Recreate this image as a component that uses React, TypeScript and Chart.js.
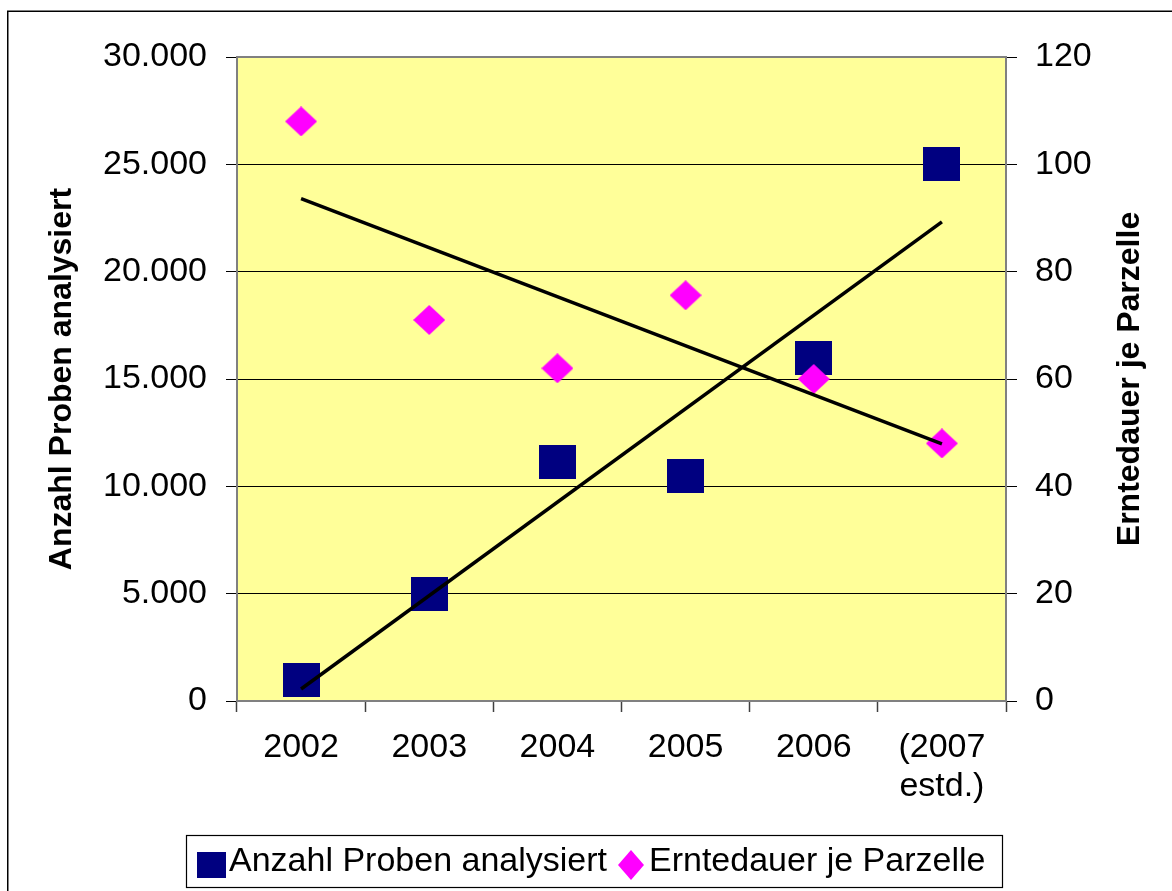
import React, { useEffect, useRef } from 'react';
import { Chart, registerables } from 'chart.js';

Chart.register(...registerables);

// ---- data ----
const categories: (string | string[])[] = ['2002', '2003', '2004', '2005', '2006', ['(2007', 'estd.)']];
const probenValues = [1000, 5000, 11150, 10500, 16000, 25000];
const ernteValues = [108, 71, 62, 75.6, 60, 48];
// linear trend lines (start 2002, end 2007)
const probenTrend = [560, null, null, null, null, 22320];
const ernteTrend = [93.6, null, null, null, null, 47.9];
const leftTicks = [0, 5000, 10000, 15000, 20000, 25000, 30000];
const rightTicks = [0, 20, 40, 60, 80, 100, 120];
const seriesNames = ['Anzahl Proben analysiert', 'Erntedauer je Parzelle'];
const axisTitles = ['Anzahl Proben analysiert', 'Erntedauer je Parzelle'];

// ---- styles ----
const NAVY = '#000080';
const MAGENTA = '#FF00FF';
const PLOT_BG = '#FFFF99';
const AXIS_GRAY = '#808080';
const FONT = '"Liberation Sans", Arial, Helvetica, sans-serif';
const TICK_SIZE = 34;
const TITLE_SIZE = 32;
const LEGEND_SIZE = 34;

function makeSquare(w: number, h: number, color: string) {
  const c = document.createElement('canvas');
  c.width = w;
  c.height = h;
  const ctx = c.getContext('2d')!;
  ctx.fillStyle = color;
  ctx.fillRect(0, 0, w, h);
  return c;
}

function makeDiamond(w: number, h: number, color: string) {
  const c = document.createElement('canvas');
  c.width = w;
  c.height = h;
  const ctx = c.getContext('2d')!;
  ctx.fillStyle = color;
  ctx.beginPath();
  ctx.moveTo(w / 2, 0);
  ctx.lineTo(w, h / 2);
  ctx.lineTo(w / 2, h);
  ctx.lineTo(0, h / 2);
  ctx.closePath();
  ctx.fill();
  return c;
}

const fmt = (v: number) => String(v).replace(/\B(?=(\d{3})+(?!\d))/g, '.');

export default function App() {
  const ref = useRef<HTMLCanvasElement>(null);

  useEffect(() => {
    document.body.style.margin = '0';
    const canvas = ref.current!;
    const squarePt = makeSquare(37, 34, NAVY);
    const diamondPt = makeDiamond(32, 30, MAGENTA);
    const legendMarkers = [makeSquare(29, 26, NAVY), makeDiamond(26, 30, MAGENTA)];

    const framePlugin = {
      id: 'frame',
      beforeDraw(chart: any) {
        const { ctx, chartArea: a } = chart;
        ctx.save();
        ctx.fillStyle = '#ffffff';
        ctx.fillRect(0, 0, chart.width, chart.height);
        ctx.strokeStyle = '#000000';
        ctx.lineWidth = 1.5;
        ctx.strokeRect(7.75, 11.25, chart.width + 20, chart.height + 20);
        ctx.fillStyle = PLOT_BG;
        ctx.fillRect(a.left, a.top, a.right - a.left, a.bottom - a.top);
        ctx.restore();
      },
      beforeDatasetsDraw(chart: any) {
        const { ctx, chartArea: a } = chart;
        ctx.save();
        ctx.strokeStyle = AXIS_GRAY;
        ctx.lineWidth = 2;
        ctx.beginPath();
        ctx.moveTo(a.left, a.top);
        ctx.lineTo(a.right, a.top);
        ctx.stroke();
        ctx.restore();
      },
      afterDraw(chart: any) {
        const { ctx, chartArea: a } = chart;
        ctx.save();
        // right axis title, read bottom-to-top like the left one
        const y1 = chart.scales.y1;
        ctx.font = `bold ${TITLE_SIZE}px ${FONT}`;
        ctx.fillStyle = '#000000';
        ctx.textAlign = 'center';
        ctx.textBaseline = 'middle';
        ctx.translate(y1.right - 42, (a.top + a.bottom) / 2);
        ctx.rotate(-Math.PI / 2);
        ctx.fillText(axisTitles[1], 0, 0);
        ctx.restore();

        ctx.save();
        ctx.font = `${LEGEND_SIZE}px ${FONT}`;
        const padL = 11, padR = 17, gapMT = [3, 5], gapItem = 11;
        const widths = seriesNames.map((n) => ctx.measureText(n).width);
        let total = padL + padR;
        seriesNames.forEach((_, i) => {
          total += legendMarkers[i].width + gapMT[i] + widths[i];
          if (i > 0) total += gapItem;
        });
        total = Math.round(total);
        const boxH = 52;
        const boxTop = chart.height - 56;
        const boxLeft = Math.round(chart.width / 2 + 8 - total / 2);
        ctx.strokeStyle = '#000000';
        ctx.lineWidth = 1.2;
        ctx.strokeRect(boxLeft + 0.5, boxTop + 0.5, total, boxH);
        const cy = boxTop + boxH / 2;
        let x = boxLeft + padL;
        ctx.fillStyle = '#000000';
        ctx.textBaseline = 'middle';
        ctx.textAlign = 'left';
        seriesNames.forEach((n, i) => {
          if (i > 0) x += gapItem;
          const m = legendMarkers[i];
          ctx.drawImage(m, x, Math.round(cy - m.height / 2 + 4));
          x += m.width + gapMT[i];
          ctx.fillText(n, x, cy + 1);
          x += widths[i];
        });
        ctx.restore();
      },
    };

    const chart = new Chart(canvas, {
      type: 'line',
      data: {
        labels: categories as any,
        datasets: [
          {
            label: 'Trend Proben',
            data: probenTrend as any,
            yAxisID: 'y',
            borderColor: '#000000',
            borderWidth: 3.5,
            pointRadius: 0,
            spanGaps: true,
            fill: false,
            order: 0,
          },
          {
            label: 'Trend Erntedauer',
            data: ernteTrend as any,
            yAxisID: 'y1',
            borderColor: '#000000',
            borderWidth: 3.5,
            pointRadius: 0,
            spanGaps: true,
            fill: false,
            order: 0,
          },
          {
            label: seriesNames[1],
            data: ernteValues,
            yAxisID: 'y1',
            showLine: false,
            pointStyle: diamondPt as any,
            pointRadius: 18,
            pointHoverRadius: 18,
            order: 1,
          },
          {
            label: seriesNames[0],
            data: probenValues,
            yAxisID: 'y',
            showLine: false,
            pointStyle: squarePt as any,
            pointRadius: 18,
            pointHoverRadius: 18,
            order: 2,
          },
        ],
      },
      options: {
        responsive: false,
        animation: false,
        events: [],
        layout: { padding: { top: 57, bottom: 70, left: 0, right: 0 } },
        plugins: { legend: { display: false }, tooltip: { enabled: false } },
        scales: {
          x: {
            type: 'category',
            offset: true,
            afterFit: (s: any) => {
              s.height = 120;
            },
            grid: {
              offset: true,
              drawOnChartArea: false,
              drawTicks: true,
              tickLength: 11,
              tickColor: '#404040',
              tickWidth: 1.5,
            },
            border: { color: AXIS_GRAY, width: 2 },
            ticks: {
              color: '#000000',
              font: { family: FONT, size: TICK_SIZE, lineHeight: 1.15 },
              padding: 16,
              maxRotation: 0,
              autoSkip: false,
            },
          },
          y: {
            position: 'left',
            min: 0,
            max: 30000,
            afterBuildTicks: (s: any) => {
              s.ticks = leftTicks.map((v) => ({ value: v }));
            },
            afterFit: (s: any) => {
              s.width = 237;
            },
            grid: {
              color: '#000000',
              lineWidth: 1,
              tickLength: 11,
              tickColor: '#000000',
              tickWidth: 1,
            },
            border: { color: AXIS_GRAY, width: 2 },
            ticks: {
              color: '#000000',
              font: { family: FONT, size: TICK_SIZE },
              padding: 19,
              callback: (v: any) => fmt(Number(v)),
            },
            title: {
              display: true,
              text: axisTitles[0],
              color: '#000000',
              font: { family: FONT, size: TITLE_SIZE, weight: 'bold' },
              padding: { top: 43, bottom: 0 },
            },
          },
          y1: {
            position: 'right',
            min: 0,
            max: 120,
            afterBuildTicks: (s: any) => {
              s.ticks = rightTicks.map((v) => ({ value: v }));
            },
            afterFit: (s: any) => {
              s.width = 166;
            },
            grid: {
              drawOnChartArea: false,
              tickLength: 11,
              tickColor: '#000000',
              tickWidth: 1,
            },
            border: { color: AXIS_GRAY, width: 2 },
            ticks: {
              color: '#000000',
              font: { family: FONT, size: TICK_SIZE },
              padding: 18,
              callback: (v: any) => String(v),
            },
          },
        },
      },
      plugins: [framePlugin],
    } as any);

    return () => chart.destroy();
  }, []);

  return (
    <div style={{ width: 1172, height: 891 }}>
      <canvas ref={ref} width={1172} height={891} style={{ display: 'block' }} />
    </div>
  );
}
